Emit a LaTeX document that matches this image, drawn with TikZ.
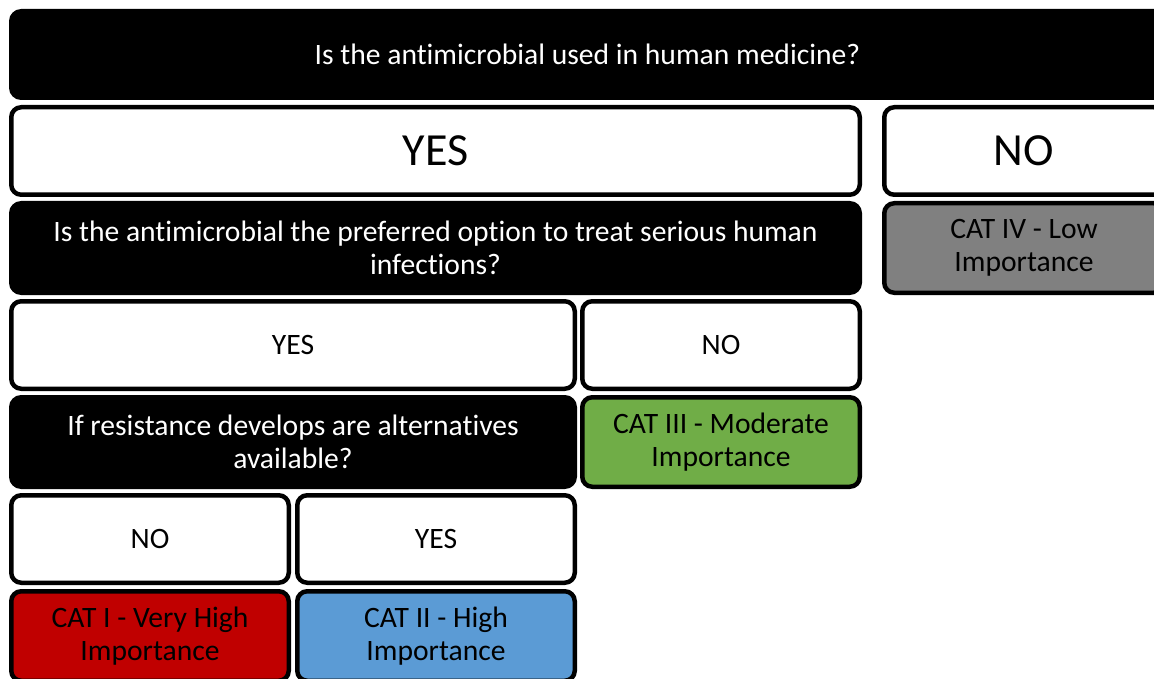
\documentclass[tikz,border=0pt]{standalone}
\usepackage{fontspec}
\setmainfont{Carlito}[Ligatures=NoCommon]
\definecolor{catred}{HTML}{C00000}
\definecolor{catblue}{HTML}{5B9BD5}
\definecolor{catgreen}{HTML}{70AD47}
\definecolor{catgray}{HTML}{808080}
\tikzset{
  box/.style={draw=black, line width=4.5pt, rounded corners=10pt, align=center, inner sep=0pt,
    font=\fontsize{29.6}{33.4}\selectfont},
  qbox/.style={box, fill=black, text=white},
  ansbox/.style={box, fill=white, text=black},
  bigans/.style={ansbox, font=\fontsize{46}{52}\selectfont},
  catbox/.style={box, text=black},
}
\begin{document}
\begin{tikzpicture}[x=1pt,y=-1pt]
\useasboundingbox (0,0) rectangle (1154,679);
\clip (0,0) rectangle (1154,679);
\node[qbox, minimum width=1152.5pt, minimum height=86.5pt] (q1) at (587.5,54.5) {Is the antimicrobial used in human medicine?};
\node[bigans, minimum width=848.5pt, minimum height=87.5pt] (yes1) at (435.5,151) {YES};
\node[bigans, minimum width=279.5pt, minimum height=87.5pt] (no1) at (1024,151) {NO};
\node[qbox, minimum width=848.5pt, minimum height=89.5pt] (q2) at (435.5,248) {Is the antimicrobial the preferred option to treat serious human\\infections?};
\node[catbox, fill=catgray, minimum width=279.5pt, minimum height=89.5pt] (cat4) at (1024,248) {CAT IV - Low\\Importance};
\node[ansbox, minimum width=563.5pt, minimum height=87.5pt] (yes2) at (293,345) {YES};
\node[ansbox, minimum width=277.5pt, minimum height=87.5pt] (no2) at (721,345) {NO};
\node[qbox, minimum width=563.5pt, minimum height=89.5pt] (q3) at (293,442) {If resistance develops are alternatives\\available?};
\node[catbox, fill=catgreen, minimum width=277.5pt, minimum height=89.5pt] (cat3) at (721,442) {CAT III - Moderate\\Importance};
\node[ansbox, minimum width=277.5pt, minimum height=87.5pt] (no3) at (150,539) {NO};
\node[ansbox, minimum width=277.5pt, minimum height=87.5pt] (yes3) at (436,539) {YES};
\node[catbox, fill=catred, minimum width=277.5pt, minimum height=89.5pt] (cat1) at (150,636) {CAT I - Very High\\Importance};
\node[catbox, fill=catblue, minimum width=277.5pt, minimum height=89.5pt] (cat2) at (436,636) {CAT II - High\\Importance};
\end{tikzpicture}
\end{document}
